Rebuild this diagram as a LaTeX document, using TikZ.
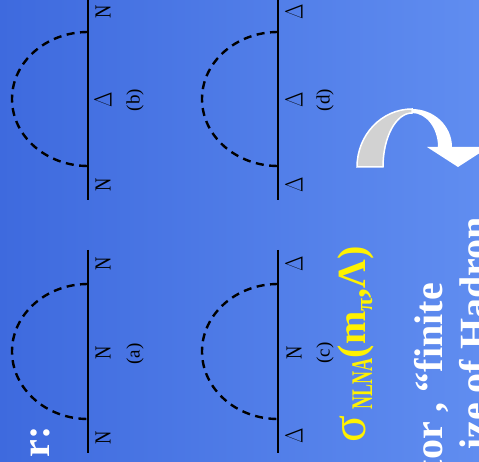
\documentclass[tikz,border=0pt]{standalone}
\usepackage{fontspec}
\setmainfont{Liberation Serif}
\usetikzlibrary{positioning}

\begin{document}
\begin{tikzpicture}[
    x=1pt, y=1pt,
    prop/.style={line width=2.2pt},
    pion/.style={line width=2.4pt, dash pattern=on 8pt off 5.5pt},
    part/.style={font=\fontsize{23}{23}\selectfont, rotate=90, xscale=0.8, inner sep=0pt},
    tag/.style={font=\fontsize{19}{19}\selectfont, rotate=90, inner sep=0pt},
    slide/.style={font=\fontsize{40}{40}\selectfont\bfseries, text=white, rotate=90, inner sep=0pt},
]
\shade[left color={rgb,255:red,62;green,106;blue,222}, right color={rgb,255:red,96;green,141;blue,240}] (0,0) rectangle (479,-462);
\useasboundingbox (0,0) rectangle (479,-462);
\clip (0,0) rectangle (479,-462);

% (b) N -> Delta -> N
\coordinate (bt) at (88,0);
\coordinate (bb) at (88,-200);
\coordinate (b1) at (88,-32);
\coordinate (b2) at (88,-166);
\draw[prop] (bt) -- (bb);
\draw[pion] (b1) arc[start angle=90, end angle=270, x radius=76, y radius=67];
\node[part] (bn1) at (103,-12) {N};
\node[part] (bd) at (103,-100) {$\Delta$};
\node[part] (bn2) at (103,-185) {N};
\node[tag] (bl) at (135,-100) {(b)};

% (a) N -> N -> N
\coordinate (at) at (88,-250);
\coordinate (ab) at (88,-453);
\coordinate (a1) at (88,-284);
\coordinate (a2) at (88,-419);
\draw[prop] (at) -- (ab);
\draw[pion] (a1) arc[start angle=90, end angle=270, x radius=76, y radius=67.5];
\node[part] (an1) at (103,-264) {N};
\node[part] (an2) at (103,-353) {N};
\node[part] (an3) at (103,-438) {N};
\node[tag] (al) at (135,-354) {(a)};

% (d) Delta -> Delta -> Delta
\coordinate (dt) at (278,0);
\coordinate (db) at (278,-200);
\coordinate (d1) at (278,-32);
\coordinate (d2) at (278,-166);
\draw[prop] (dt) -- (db);
\draw[pion] (d1) arc[start angle=90, end angle=270, x radius=76, y radius=67];
\node[part] (dd1) at (294,-12) {$\Delta$};
\node[part] (dd2) at (294,-100) {$\Delta$};
\node[part] (dd3) at (294,-185) {$\Delta$};
\node[tag] (dl) at (325,-100) {(d)};

% (c) Delta -> N -> Delta
\coordinate (ct) at (278,-250);
\coordinate (cb) at (278,-453);
\coordinate (c1) at (278,-284);
\coordinate (c2) at (278,-419);
\draw[prop] (ct) -- (cb);
\draw[pion] (c1) arc[start angle=90, end angle=270, x radius=76, y radius=67.5];
\node[part] (cd1) at (294,-264) {$\Delta$};
\node[part] (cn) at (294,-353) {N};
\node[part] (cd2) at (294,-436) {$\Delta$};
\node[tag] (cl) at (325,-353) {(c)};

% curved arrow
\filldraw[fill=gray!35, draw=white, line width=1.5pt] (357,-167)
    arc[start angle=180, end angle=90, x radius=55, y radius=58] -- (412,-113)
    arc[start angle=90, end angle=180, x radius=29, y radius=54] -- cycle;
\fill[white] (412,-109) arc[start angle=90, end angle=0, x radius=40, y radius=38]
    -- (489,-147) -- (458,-167) -- (427,-147) -- (438,-147)
    arc[start angle=0, end angle=90, x radius=26, y radius=34] -- cycle;

% slide text
\node[slide, text=yellow, anchor=base west] (sigma) at (365,-443)
    {{\mdseries\fontsize{50}{50}\selectfont σ}\,\raisebox{-7pt}{\scalebox{0.6}[1]{\fontsize{30}{30}\selectfont NLNA}}(m\raisebox{-7pt}{\fontsize{24}{24}\selectfont π},Λ)};
\node[slide, anchor=base east] (line1) at (442,-283) {tor , “finite};
\node[slide, anchor=base east] (line2) at (487,-217) {ize of Hadron};
\node[slide, anchor=base east] (colon) at (49,-426) {r:};
\end{tikzpicture}
\end{document}
